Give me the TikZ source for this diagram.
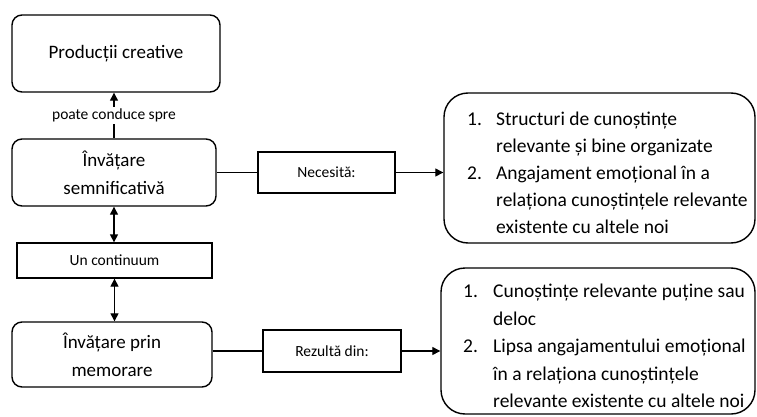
\documentclass[tikz,border=0pt]{standalone}
\usepackage{fontspec}
\setmainfont{Carlito}
\usetikzlibrary{arrows.meta}
\begin{document}
\begin{tikzpicture}[x=1pt,y=-1pt,
  rbox/.style={draw, line width=1.4pt, rounded corners=10pt, align=center, font=\fontsize{19}{28}\selectfont, inner sep=0pt},
  sbox/.style={draw, line width=1.3pt, font=\fontsize{15.5}{18}\selectfont, inner sep=0pt},
  bigbox/.style={draw, line width=1.4pt, rounded corners=24pt, inner sep=0pt},
  listtext/.style={anchor=north west, inner sep=0pt, font=\fontsize{19.5}{27}\selectfont},
  lbl/.style={fill=white, inner sep=1.5pt, font=\fontsize{15.5}{18}\selectfont},
  conn/.style={line width=1.3pt},
  arr/.style={conn, -{Triangle[length=8pt,width=8pt]}},
  darr/.style={conn, {Triangle[length=8pt,width=8pt]}-{Triangle[length=8pt,width=8pt]}}]
\useasboundingbox[fill=white] (0,0) rectangle (757,417);
% left column
\node[rbox, minimum width=208pt, minimum height=77pt] (prod) at (116,53.5) {Producții creative};
\node[rbox, minimum width=204pt, minimum height=67pt] (sem) at (114,172.5) {Învățare\\semnificativă};
\node[sbox, minimum width=195pt, minimum height=35pt] (cont) at (114.5,260.5) {Un continuum};
\node[rbox, minimum width=200pt, minimum height=65pt] (mem) at (112,354.5) {Învățare prin\\memorare};
% middle labels
\node[sbox, minimum width=137pt, minimum height=41pt] (nec) at (326.5,172.5) {Necesită:};
\node[sbox, minimum width=138pt, minimum height=42pt] (rez) at (332,351) {Rezultă din:};
% big boxes
\node[bigbox, minimum width=311pt, minimum height=150pt] (big1) at (599.5,168) {};
\node[bigbox, minimum width=314pt, minimum height=146pt] (big2) at (598,341) {};
\node[listtext] (list1) at (467,106) {\begin{tabular}{@{}p{29pt}@{}l@{}}1. & Structuri de cunoștințe\\ & relevante și bine organizate\\ 2. & Angajament emoțional în a\\ & relaționa cunoștințele relevante\\ & existente cu altele noi\end{tabular}};
\node[listtext, font=\fontsize{19.5}{27.5}\selectfont] (list2) at (463,278.5) {\begin{tabular}{@{}p{30pt}@{}l@{}}1. & Cunoștințe relevante puține sau\\ & deloc\\ 2. & Lipsa angajamentului emoțional\\ & în a relaționa cunoștințele\\ & relevante existente cu altele noi\end{tabular}};
% connectors
\draw[arr] (sem.north) -- (sem.north |- prod.south) node[pos=0.5, lbl] (lead) {poate conduce spre};
\draw[darr] (sem.south) -- (sem.south |- cont.north);
\draw[darr] (cont.south) -- (cont.south |- mem.north);
\draw[conn] (sem.east) -- (nec.west);
\draw[arr] (nec.east) -- (nec.east -| big1.west);
\draw[conn] (mem.east |- rez.west) -- (rez.west);
\draw[arr] (rez.east) -- (rez.east -| big2.west);
\end{tikzpicture}
\end{document}
